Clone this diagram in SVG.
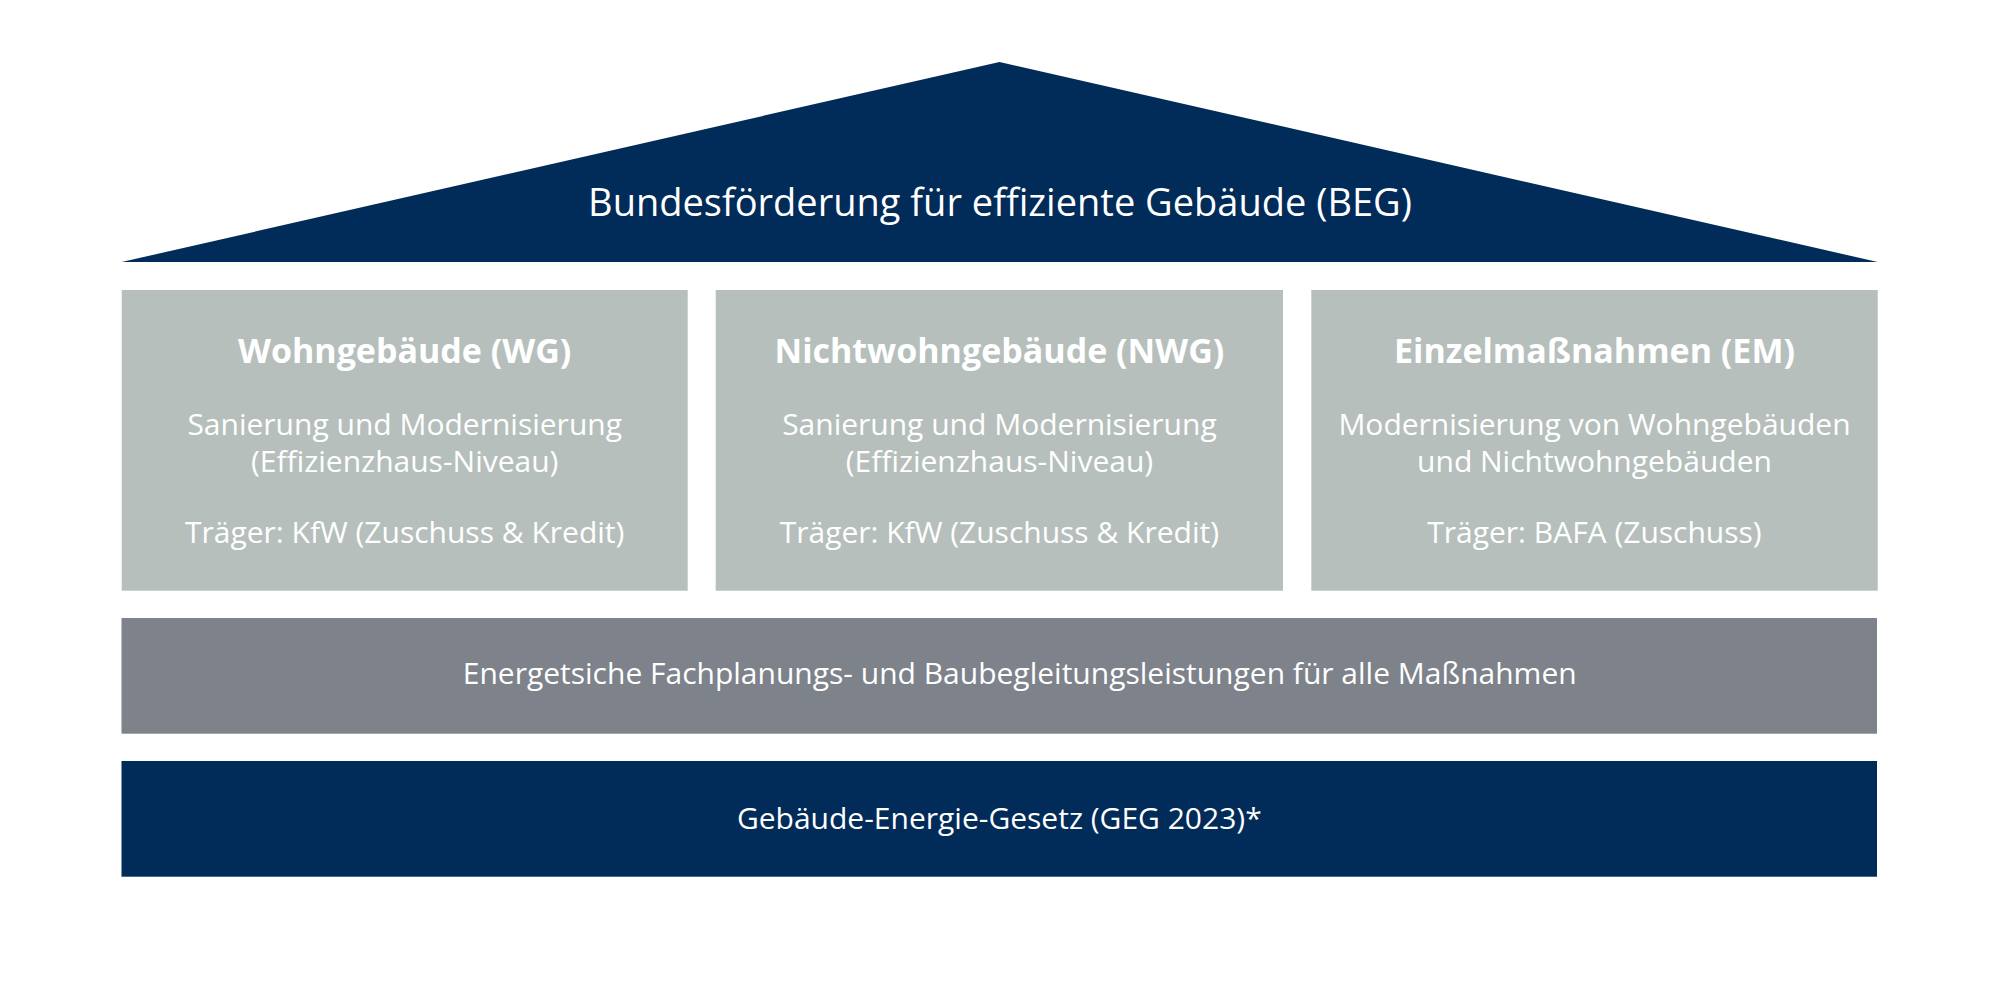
<svg xmlns="http://www.w3.org/2000/svg" width="2000" height="1000" viewBox="0 0 2000 1000">
<style>
.navy{fill:#012B58}
.light{fill:#B6BFBC}
.dark{fill:#7E828A}
text{font-family:"Open Sans","Noto Sans","DejaVu Sans",sans-serif;fill:#FFFFFF;text-anchor:middle}
.roof{font-size:38px}
.title{font-size:34px;font-weight:bold}
.body{font-size:30px}
.bar{font-size:30px}
</style>
<rect x="0" y="0" width="2000" height="1000" fill="#FFFFFF"/>
<g id="connectors"></g>
<g id="roof">
<polygon class="navy" points="121.7,262 999.5,62 1877.7,262"/>
<text class="roof" x="1000" y="216">Bundesförderung für effiziente Gebäude (BEG)</text>
</g>
<g id="wg">
<rect class="light" x="121.7" y="290" width="566" height="300.7"/>
<text class="title" x="404.7" y="362.5">Wohngebäude (WG)</text>
<text class="body" x="404.7" y="434.5">Sanierung und Modernisierung</text>
<text class="body" x="404.7" y="471.5">(Effizienzhaus-Niveau)</text>
<text class="body" x="404.7" y="542.5">Träger: KfW (Zuschuss &amp; Kredit)</text>
</g>
<g id="nwg">
<rect class="light" x="715.7" y="290" width="567.3" height="300.7"/>
<text class="title" x="999.4" y="362.5">Nichtwohngebäude (NWG)</text>
<text class="body" x="999.4" y="434.5">Sanierung und Modernisierung</text>
<text class="body" x="999.4" y="471.5">(Effizienzhaus-Niveau)</text>
<text class="body" x="999.4" y="542.5">Träger: KfW (Zuschuss &amp; Kredit)</text>
</g>
<g id="em">
<rect class="light" x="1311.3" y="290" width="566.4" height="300.7"/>
<text class="title" x="1594.5" y="362.5">Einzelmaßnahmen (EM)</text>
<text class="body" x="1594.5" y="434.5">Modernisierung von Wohngebäuden</text>
<text class="body" x="1594.5" y="471.5">und Nichtwohngebäuden</text>
<text class="body" x="1594.5" y="542.5">Träger: BAFA (Zuschuss)</text>
</g>
<g id="fachplanung">
<rect class="dark" x="121.5" y="618" width="1755.5" height="115.7"/>
<text class="bar" x="1019.7" y="683.5">Energetsiche Fachplanungs- und Baubegleitungsleistungen für alle Maßnahmen</text>
</g>
<g id="geg">
<rect class="navy" x="121.5" y="761" width="1755.5" height="115.7"/>
<text class="bar" x="999.3" y="828.5">Gebäude-Energie-Gesetz (GEG 2023)*</text>
</g>
</svg>
